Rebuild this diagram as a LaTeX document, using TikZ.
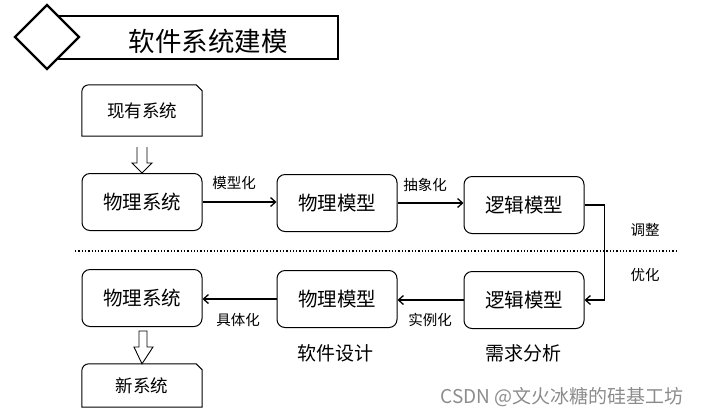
\documentclass[tikz,border=0pt]{standalone}
\usepackage{fontspec}
\setmainfont{Noto Sans CJK SC}
\usepackage{tikz}
\usetikzlibrary{arrows.meta}
\usetikzlibrary{positioning}
\tikzstyle{box}=[draw,line width=1pt,rounded corners=8pt,minimum width=120pt,minimum height=57pt,inner sep=0pt,font=\fontsize{19.5}{19.5}\selectfont]
\tikzstyle{tab}=[minimum width=120pt,inner sep=0pt,font=\fontsize{17.5}{17.5}\selectfont]
\tikzstyle{arr}=[line width=1.3pt,-{Straight Barb[length=5pt,width=9pt,line width=1.3pt]}]
\tikzstyle{lbl}=[font=\fontsize{14.5}{14.5}\selectfont,inner sep=1pt]
\tikzstyle{sub}=[font=\fontsize{19}{19}\selectfont,inner sep=1pt]

\begin{document}
\begin{tikzpicture}[x=1pt,y=-1pt]
\useasboundingbox (0,0) rectangle (703,416);
% title
\draw[line width=1.5pt] (47,16) rectangle (338,59);
\draw[line width=2.2pt,fill=white] (15,37) -- (47,5) -- (79,37) -- (47,69) -- cycle;
\node (title) at (208,41) {\fontsize{26.5}{26.5}\selectfont 软件系统建模};
% top row
\node [tab,minimum height=51pt] (old) at (142,110.5) {现有系统};
\node [box] (phys1) at (142,202) {物理系统};
\node [box] (pmod1) at (337,203) {物理模型};
\node [box] (lmod1) at (524,205) {逻辑模型};
% bottom row
\node [box] (phys2) at (142,298) {物理系统};
\node [box] (pmod2) at (337,299) {物理模型};
\node [box] (lmod2) at (524,300) {逻辑模型};
\node [tab,minimum height=43pt] (new) at (142,385.5) {新系统};
% tab boxes
\draw[line width=1pt] (old.south west) [rounded corners=7pt] -- (old.north west) [sharp corners] -- ([xshift=-6pt]old.north east) -- ([yshift=-6pt]old.north east) -- (old.south east) -- cycle;
\draw[line width=1pt] (new.south west) [rounded corners=7pt] -- (new.north west) [sharp corners] -- ([xshift=-6pt]new.north east) -- ([yshift=-6pt]new.north east) -- (new.south east) -- cycle;
% block arrows
\draw[line width=0.9pt] (137,147) -- (137,163) -- (132,163) -- (phys1.north) -- (152,163) -- (147,163) -- (147,147);
\draw[line width=0.9pt] (139,331) -- (139,347) -- (134,347) -- (new.north) -- (153,347) -- (147,347) -- (147,331) -- cycle;
% connectors
\draw[arr] (phys1.east) -- (pmod1.west |- phys1.east);
\draw[arr] (pmod1.east) -- (lmod1.west |- pmod1.east);
\draw[arr] (lmod1.east) -- ++(20,0) |- (lmod2.east);
\draw[arr] (lmod2.west) -- (pmod2.east |- lmod2.west);
\draw[arr] (pmod2.west) -- (phys2.east |- pmod2.west);
\draw[dotted,line width=1.3pt] (75,251) -- (676,251);
% labels
\node [lbl] (l1) at (234,183) {模型化};
\node [lbl] (l2) at (425,185) {抽象化};
\node [lbl] (l3) at (430,320) {实例化};
\node [lbl] (l4) at (238,320) {具体化};
\node [lbl] (adj) at (645,230) {调整};
\node [lbl] (opt) at (645,275) {优化};
\node [sub] (design) at (335,353) {软件设计};
\node [sub] (analysis) at (523,353) {需求分析};
\node [font=\fontsize{19}{19}\selectfont,text=black!45] (mark) at (562,397) {CSDN @文火冰糖的硅基工坊};
\end{tikzpicture}
\end{document}
